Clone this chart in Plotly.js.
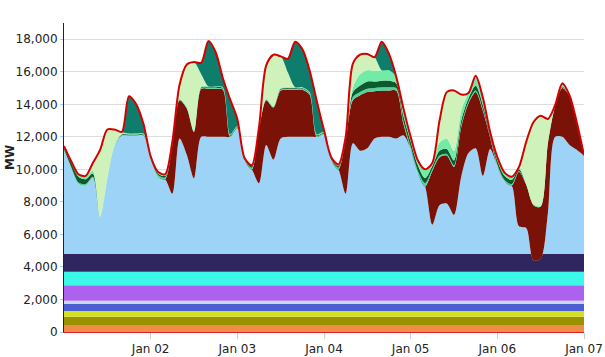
<!DOCTYPE html>
<html>
<head>
<meta charset="utf-8">
<script src="https://cdn.plot.ly/plotly-3.0.1.min.js"></script>
<style>html,body{margin:0;padding:0;background:#fff;}#chart{width:605px;height:357px;}</style>
</head>
<body>
<div id="chart"></div>
<script>
// Hours since Jan 01 00:00 at which the variable series are sampled (every 2 h)
const hours = [];
for (let h = 0; h <= 144; h += 2) hours.push(h);
function stamp(h) {
  const d = 1 + Math.floor(h / 24), hh = h % 24;
  return '2015-01-' + String(d).padStart(2, '0') + ' ' + String(hh).padStart(2, '0') + ':00';
}
const times = hours.map(stamp);
const span = [stamp(0), stamp(144)];

// Flat base layers (MW), bottom to top
const baseNames  = ['Orange', 'Olive', 'Yellow', 'Blue', 'Grey', 'Purple', 'Cyan', 'Navy'];
const baseValues = [430, 510, 350, 430, 200, 950, 830, 1090];

// Variable layers (MW)
const lightBlue = [6340,5260,4310,4210,4660,2210,4610,6610,7260,7260,7260,7260,5860,4760,4610,3710,7110,6110,4660,7210,7210,7210,7210,7210,7710,5760,5210,4360,6710,5810,7110,7210,7210,7210,7210,7210,7360,5760,5210,3710,6810,6360,6510,7110,7210,7210,7110,7310,6460,4960,4160,1810,3010,3110,2410,4760,6210,6510,4810,6460,5410,4460,4210,1710,1610,-390,-290,2510,7210,7210,6710,6410,6060];
const darkRed   = [0,0,0,0,0,0,0,0,0,0,0,0,0,0,0,3000,2350,2850,2850,2950,2950,2950,2900,0,0,0,0,3300,2750,3200,2950,2900,2900,2900,2600,0,0,0,0,3300,2650,3400,3450,2900,2850,2850,2950,700,0,0,0,3300,2950,2950,2950,3050,3050,3450,4000,700,0,0,0,3350,2650,3400,3200,4300,1900,3000,3000,1650,0];
const green1    = [100,100,100,100,100,50,50,50,50,50,50,50,50,100,100,50,50,50,50,50,50,50,50,50,50,50,100,50,50,50,50,50,50,50,50,50,50,50,100,50,200,200,200,200,200,200,150,150,150,150,200,100,100,100,100,100,100,100,100,50,100,100,100,50,50,50,50,50,50,50,50,50,0];
const darkGreen = [100,250,350,300,200,0,0,0,50,50,50,50,50,100,100,0,0,0,0,50,50,50,50,50,50,50,100,0,0,0,50,50,50,50,50,50,50,100,100,50,300,400,450,400,400,400,300,350,300,350,300,200,300,300,300,300,200,300,250,150,250,250,250,100,0,0,0,0,0,50,0,0,0];
const green2    = [100,100,150,200,150,50,50,50,50,50,50,50,50,100,100,50,50,50,50,50,50,50,50,50,50,50,50,50,50,50,50,50,50,50,50,50,50,50,100,100,300,700,700,650,650,650,400,450,300,300,500,200,500,650,600,600,400,600,400,150,200,200,200,150,0,0,0,0,0,100,0,0,0];
const paleGreen = [0,0,0,0,500,4100,2950,950,100,0,0,0,0,0,0,100,850,2600,4200,750,0,0,0,0,0,0,0,50,2050,3150,1950,900,0,0,0,0,0,0,0,0,1450,1200,1000,850,0,0,0,0,0,0,0,0,1350,2850,3700,1000,0,0,0,0,0,0,0,0,2600,5050,5550,1450,0,0,0,0,0];
const teal      = [0,0,0,0,0,0,0,0,0,2300,1800,600,0,0,0,0,0,0,0,700,2800,2100,550,2150,450,0,0,0,0,0,0,850,2800,2350,1350,2050,100,0,0,0,0,0,0,0,1750,1000,0,0,0,0,0,0,0,0,0,0,0,0,0,0,0,0,0,0,0,0,0,0,0,100,0,0,0];
const total     = [11430,10500,9700,9600,10400,11200,12450,12450,12300,14500,14000,12800,10800,9850,9700,11700,15200,16450,16600,16550,17900,17200,15600,14300,13100,10700,10250,12600,16400,17050,16950,16800,17850,17400,16100,14200,12400,10750,10300,12000,16500,17050,17100,16900,17850,17100,15700,13750,12000,10550,10000,10400,13000,14750,14850,14600,14700,15750,14400,12300,10750,9800,9550,10150,11700,12900,13300,13100,13950,15300,14550,12900,10870];

const tickVals = ['2015-01-02','2015-01-03','2015-01-04','2015-01-05','2015-01-06','2015-01-07'];
const tickText = ['Jan 02','Jan 03','Jan 04','Jan 05','Jan 06','Jan 07'];

const baseColors = ['#F08C4A','#9B9200','#D4E01F','#4B5FD2','#C9D6E6','#AC62EE','#3CF8E8','#2F2660'];
const varSeries = [
  ['Light blue', lightBlue, '#9DD3F7'],
  ['Dark red',   darkRed,   '#7A1208'],
  ['Green 1',    green1,    '#4FD59B'],
  ['Dark green', darkGreen, '#0C5A2E'],
  ['Green 2',    green2,    '#72EBA6'],
  ['Pale green', paleGreen, '#CEF2B9'],
  ['Teal',       teal,      '#0F7D6B']
];

const traces = [];
baseNames.forEach((n, i) => {
  traces.push({
    type: 'scatter', mode: 'lines', name: n,
    x: span, y: [baseValues[i], baseValues[i]],
    stackgroup: 'gen', stackgaps: 'interpolate',
    line: {width: 0, shape: 'spline'}, fillcolor: baseColors[i], hoverinfo: 'skip'
  });
});
varSeries.forEach(([n, ys, c]) => {
  traces.push({
    type: 'scatter', mode: 'lines', name: n,
    x: times, y: ys, stackgroup: 'gen',
    line: {width: 0, shape: 'spline', smoothing: 0.8}, fillcolor: c, hoverinfo: 'skip'
  });
});
traces.push({
  type: 'scatter', mode: 'lines', name: 'Demand',
  x: times, y: total,
  line: {color: '#D40000', width: 2, shape: 'spline', smoothing: 0.8}, hoverinfo: 'skip'
});

const layout = {
  width: 605, height: 357,
  margin: {l: 64, r: 21, t: 23, b: 25, pad: 0},
  paper_bgcolor: '#fff', plot_bgcolor: '#fff',
  showlegend: false,
  font: {family: 'DejaVu Sans, Verdana, sans-serif', size: 12, color: '#222'},
  xaxis: {
    type: 'date', range: span, tickvals: tickVals, ticktext: tickText,
    showgrid: false, zeroline: false, showline: true, linecolor: '#E02020', linewidth: 1,
    ticks: 'outside', ticklen: 6, tickcolor: '#cccccc', tickfont: {size: 12}
  },
  yaxis: {
    range: [0, 19000], tickvals: [0,2000,4000,6000,8000,10000,12000,14000,16000,18000],
    tickformat: ',d', showgrid: true, gridcolor: '#dddddd', gridwidth: 1, zeroline: false,
    showline: true, linecolor: '#222', linewidth: 1,
    ticks: 'outside', ticklen: 3, tickcolor: '#9DD3F7', tickfont: {size: 12}
  },
  annotations: [{
    text: '<b>MW</b>', textangle: -90, xref: 'paper', yref: 'paper',
    x: -0.104, y: 0.566, xanchor: 'center', yanchor: 'middle', showarrow: false,
    font: {size: 12, color: '#222'}
  }]
};

Plotly.newPlot('chart', traces, layout, {staticPlot: true, displayModeBar: false});
</script>
</body>
</html>
